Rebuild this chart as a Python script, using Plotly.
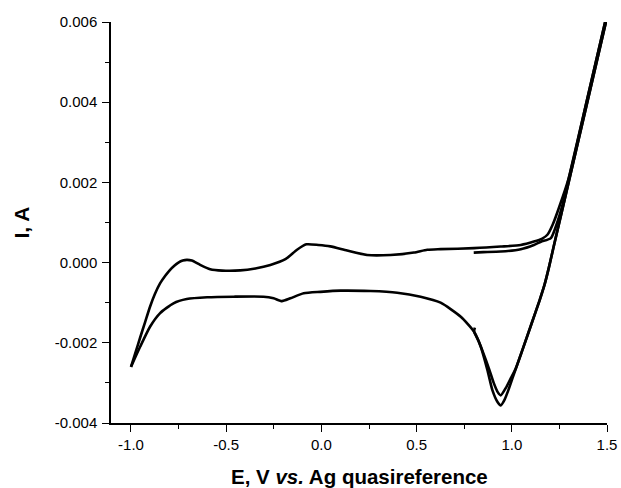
import plotly.graph_objects as go

# ---- data (potential E in V, current I in A) ----
# initial anodic sweep 0.8 -> 1.5 V
E_start = [0.80, 0.85, 0.942, 1.047, 1.116, 1.153, 1.205, 1.235, 1.267, 1.30, 1.40, 1.50]
I_start = [0.00025, 0.00026, 0.000275, 0.000335, 0.00044, 0.00052, 0.00061, 0.00095, 0.00145, 0.00212, 0.00416, 0.0062]

# cathodic sweep 1.5 -> -1.0 V (first cycle, deeper peak)
E_cath1 = [1.50, 1.40, 1.30, 1.22, 1.195, 1.172, 1.146, 1.104, 1.055, 1.009, 0.982, 0.961, 0.942,
           0.925, 0.898, 0.872, 0.837, 0.802, 0.732, 0.626, 0.521, 0.398, 0.258, 0.10, -0.005,
           -0.093, -0.163, -0.207, -0.251, -0.304, -0.46, -0.60, -0.707, -0.777, -0.847,
           -0.90, -0.952, -1.0]
I_cath1 = [0.00611, 0.00407, 0.00203, 0.0004, -0.00012, -0.00055, -0.00094, -0.00152, -0.00219, -0.00281,
           -0.00318, -0.00343, -0.00356, -0.003475, -0.00318, -0.00268, -0.0021, -0.001725, -0.00135,
           -0.001, -0.00085, -0.00075, -0.00071, -0.0007, -0.00073, -0.000765, -0.00089, -0.00096,
           -0.00089, -0.00085, -0.00085, -0.000865, -0.00091, -0.001015, -0.00126, -0.0016,
           -0.0021, -0.0026]

# anodic sweep -1.0 -> 1.5 V
E_anod = [-1.0, -0.975, -0.9526, -0.925, -0.90, -0.875, -0.8474, -0.82, -0.7947, -0.771, -0.751,
          -0.728, -0.7068, -0.6805, -0.6368, -0.5842,
          -0.521, -0.4263, -0.347, -0.268, -0.189, -0.128, -0.079, -0.016, 0.047, 0.135, 0.24,
          0.363, 0.486, 0.556, 0.626, 0.8016, 0.942, 1.047, 1.116, 1.16, 1.188, 1.215, 1.25,
          1.30, 1.40, 1.50]
I_anod = [-0.0026, -0.00222, -0.00188, -0.00147, -0.0011, -0.00079, -0.00052, -0.00033, -0.00018,
          -0.00007, 0.0, 0.00005, 0.0000675, 0.00005, -0.0000575,
          -0.000165, -0.0002, -0.000195, -0.000145, -0.0000575, 0.000085, 0.00032, 0.000455,
          0.00044, 0.000405, 0.0003, 0.00019, 0.00019, 0.00025, 0.00032, 0.000335, 0.00036,
          0.0004, 0.00044, 0.000525, 0.0006, 0.0007, 0.00095, 0.0014, 0.00212, 0.00416, 0.0062]

# second cathodic sweep 1.5 -> 0.8 V (shallower peak)
E_cath2 = [1.50, 1.40, 1.30, 1.22, 1.195, 1.172, 1.146, 1.104, 1.055, 1.02, 0.995, 0.968, 0.942,
           0.926, 0.905, 0.879, 0.85, 0.825, 0.802, 0.806]
I_cath2 = [0.00611, 0.00407, 0.00203, 0.0004, -0.00012, -0.00055, -0.00094, -0.00152, -0.00219, -0.00265,
           -0.00288, -0.00313, -0.00331, -0.00323, -0.003, -0.00263, -0.00225, -0.00195, -0.00172,
           -0.00162]

x_tickvals = [-1.0, -0.5, 0.0, 0.5, 1.0, 1.5]
x_ticktext = ["-1.0", "-0.5", "0.0", "0.5", "1.0", "1.5"]
x_minor = [-0.75, -0.25, 0.25, 0.75, 1.25]
y_tickvals = [-0.004, -0.002, 0.0, 0.002, 0.004, 0.006]
y_ticktext = ["-0.004", "-0.002", "0.000", "0.002", "0.004", "0.006"]
y_minor = [-0.003, -0.001, 0.001, 0.003, 0.005]

FONT = "Liberation Sans, Arial, Helvetica, sans-serif"

fig = go.Figure()
for E, I in [(E_start, I_start), (E_cath1, I_cath1), (E_anod, I_anod), (E_cath2, I_cath2)]:
    fig.add_trace(go.Scatter(x=E, y=I, mode="lines",
                             line=dict(color="black", width=2.6, shape="spline", smoothing=0.6),
                             showlegend=False, hoverinfo="skip"))

axis_common = dict(showgrid=False, zeroline=False, showline=True, linecolor="black", linewidth=1.5,
                   ticks="outside", ticklen=7, tickwidth=1.3, tickcolor="black", mirror=False,
                   tickfont=dict(family=FONT, size=15, color="black"), tickmode="array",
                   automargin=False)

fig.update_xaxes(range=[-1.105, 1.5], tickvals=x_tickvals, ticktext=x_ticktext,
                 minor=dict(tickmode="array", tickvals=x_minor, ticks="outside", ticklen=4,
                            tickwidth=1.3, tickcolor="black"), **axis_common)
fig.update_yaxes(range=[-0.004, 0.006], tickvals=y_tickvals, ticktext=y_ticktext,
                 ticklabelstandoff=2,
                 minor=dict(tickmode="array", tickvals=y_minor, ticks="outside", ticklen=4,
                            tickwidth=1.3, tickcolor="black"), **axis_common)

fig.add_annotation(text="<b>E, V <i>vs.</i> Ag quasireference</b>", xref="paper", yref="paper",
                   x=0.5, y=0, xanchor="center", yanchor="middle", yshift=-53, showarrow=False,
                   font=dict(family=FONT, size=20.5, color="black"))
fig.add_annotation(text="<b>I, A</b>", xref="paper", yref="paper", x=0, y=0.5,
                   xanchor="center", yanchor="middle", xshift=-90, textangle=-90, showarrow=False,
                   font=dict(family=FONT, size=21, color="black"))

fig.update_layout(width=621, height=488, margin=dict(l=111, r=14, t=22, b=65),
                  plot_bgcolor="white", paper_bgcolor="white", showlegend=False)

fig.write_html("out.html", config={"displayModeBar": False},
               post_script="document.body.style.margin='0';document.body.style.padding='0';")
